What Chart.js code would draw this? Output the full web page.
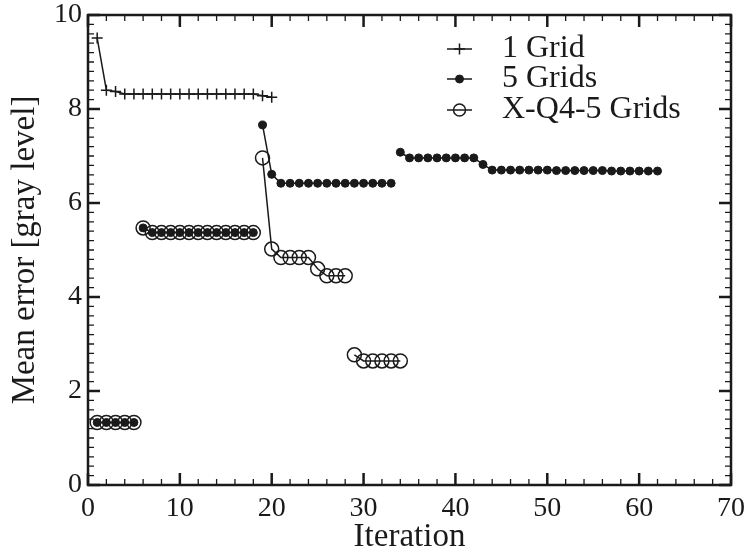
<!DOCTYPE html>
<html>
<head>
<meta charset="utf-8">
<script src="https://cdn.jsdelivr.net/npm/chart.js@4.4.0/dist/chart.umd.min.js"></script>
<style>
  html, body { margin: 0; padding: 0; background: #fff; }
  #wrap { width: 745px; height: 554px; }
  #precarga { font-family: "Liberation Serif"; position: absolute; left: -9999px; }
</style>
</head>
<body>
<span id="precarga">Iteration 0123456789</span>
<div id="wrap"><canvas id="grafico"></canvas></div>
<script>
// =====================
// Datos
// =====================
const nombres = ["1 Grid", "5 Grids", "X-Q4-5 Grids"];
const iterInicio = 1; // primera iteración de cada serie

const grid1Values = [
  9.51, 8.40, 8.37,
  8.32, 8.32, 8.32, 8.32, 8.32, 8.32, 8.32, 8.32, 8.32, 8.32, 8.32, 8.32, 8.32, 8.32, 8.32,
  8.28, 8.25
];
const grid1Breaks = [];

const grid5Values = [
  1.33, 1.33, 1.33, 1.33, 1.33,
  5.47, 5.37, 5.37, 5.37, 5.37, 5.37, 5.37, 5.37, 5.37, 5.37, 5.37, 5.37, 5.37,
  7.66, 6.61, 6.42, 6.42, 6.42, 6.42, 6.42, 6.42, 6.42, 6.42, 6.42, 6.42, 6.42, 6.42, 6.42,
  7.08, 6.96, 6.96, 6.96, 6.96, 6.96, 6.96, 6.96, 6.96,
  6.82, 6.70, 6.70, 6.70, 6.70, 6.70, 6.70, 6.70, 6.69, 6.69, 6.69, 6.69, 6.69, 6.69,
  6.68, 6.68, 6.68, 6.68, 6.68, 6.68
];
const grid5Breaks = [6, 19, 34];

const xq4Values = [
  1.33, 1.33, 1.33, 1.33, 1.33,
  5.47, 5.37, 5.37, 5.37, 5.37, 5.37, 5.37, 5.37, 5.37, 5.37, 5.37, 5.37, 5.37,
  6.96, 5.02, 4.84, 4.84, 4.84, 4.84, 4.60, 4.45, 4.45, 4.45,
  2.77, 2.64, 2.64, 2.64, 2.64, 2.64
];
const xq4Breaks = [6, 19, 29];

// =====================
// Funciones auxiliares
// =====================
function puntos(valores, cortes) {
  const out = [];
  valores.forEach((v, i) => {
    const it = iterInicio + i;
    if (cortes.includes(it)) out.push({ x: it - 0.5, y: null }); // corta la línea
    out.push({ x: it, y: v });
  });
  return out;
}

const negro = "#1a1a1a";
const fuente = '"Liberation Serif", serif';
Chart.defaults.font.family = fuente;
Chart.defaults.color = negro;

// marco con marcas hacia dentro en los cuatro lados
const marco = {
  id: "marco",
  afterDraw(chart) {
    const { ctx, chartArea: a, scales: { x, y } } = chart;
    ctx.save();
    ctx.strokeStyle = negro;
    for (let k = 0; k <= 35; k++) {
      const px = x.getPixelForValue(k * 2);
      const mayor = k % 5 === 0;
      const len = mayor ? 12 : 6;
      ctx.lineWidth = mayor ? 2.5 : 1.3;
      ctx.beginPath();
      ctx.moveTo(px, a.bottom); ctx.lineTo(px, a.bottom - len);
      ctx.moveTo(px, a.top); ctx.lineTo(px, a.top + len);
      ctx.stroke();
    }
    for (let k = 0; k <= 50; k++) {
      const py = y.getPixelForValue(k * 0.2);
      const mayor = k % 10 === 0;
      const len = mayor ? 12 : 6;
      ctx.lineWidth = mayor ? 2.5 : 1.3;
      ctx.beginPath();
      ctx.moveTo(a.left, py); ctx.lineTo(a.left + len, py);
      ctx.moveTo(a.right, py); ctx.lineTo(a.right - len, py);
      ctx.stroke();
    }
    ctx.lineWidth = 2.5;
    ctx.strokeRect(a.left, a.top, a.right - a.left, a.bottom - a.top);
    ctx.restore();
  }
};

// leyenda dentro del área del gráfico
const leyenda = {
  id: "leyenda",
  afterDraw(chart) {
    const ctx = chart.ctx;
    const x0 = 447, x1 = 472, xt = 502;
    const filas = [49, 79, 110];
    ctx.save();
    chart.data.datasets.forEach((ds, i) => {
      const yy = filas[i];
      ctx.strokeStyle = negro;
      ctx.lineWidth = 1.5;
      ctx.beginPath();
      ctx.moveTo(x0, yy); ctx.lineTo(x1, yy);
      ctx.stroke();
      ctx.fillStyle = ds.pointBackgroundColor;
      ctx.strokeStyle = negro;
      ctx.lineWidth = ds.pointBorderWidth;
      Chart.helpers.drawPoint(ctx, {
        pointStyle: ds.pointStyle,
        radius: Math.min(ds.pointRadius, 6),
        borderWidth: ds.pointBorderWidth,
        rotation: 0
      }, (x0 + x1) / 2, yy);
      ctx.fillStyle = negro;
      ctx.font = "32px " + fuente;
      ctx.textBaseline = "middle";
      ctx.textAlign = "left";
      ctx.fillText(nombres[i], xt, yy);
    });
    ctx.restore();
  }
};

// =====================
// Gráfico
// =====================
function dibujar() {
  new Chart(document.getElementById("grafico"), {
    type: "line",
    data: {
      datasets: [
        {
          label: nombres[0],
          data: puntos(grid1Values, grid1Breaks),
          borderColor: negro, borderWidth: 1.5,
          pointStyle: "cross", pointRadius: 5.5, pointBorderWidth: 1.5,
          pointBorderColor: negro, pointBackgroundColor: negro
        },
        {
          label: nombres[1],
          data: puntos(grid5Values, grid5Breaks),
          borderColor: negro, borderWidth: 1.5,
          pointStyle: "circle", pointRadius: 4, pointBorderWidth: 1,
          pointBorderColor: negro, pointBackgroundColor: negro
        },
        {
          label: nombres[2],
          data: puntos(xq4Values, xq4Breaks),
          borderColor: negro, borderWidth: 1.5,
          pointStyle: "circle", pointRadius: 7, pointBorderWidth: 1.5,
          pointBorderColor: negro, pointBackgroundColor: "rgba(0,0,0,0)"
        }
      ]
    },
    options: {
      responsive: true,
      maintainAspectRatio: false,
      animation: false,
      devicePixelRatio: 1,
      layout: { padding: { left: 0, top: 15, right: 14, bottom: 0 } },
      plugins: { legend: { display: false }, tooltip: { enabled: false } },
      scales: {
        x: {
          type: "linear", min: 0, max: 70,
          grid: { display: false, drawTicks: false },
          border: { display: false },
          ticks: { stepSize: 10, padding: 10, color: negro, font: { size: 28, lineHeight: 1 } },
          title: { display: true, text: "Iteration", color: negro, padding: { top: 0, bottom: 0 }, font: { size: 33, lineHeight: 1 } },
          afterFit: s => { s.height = 69; s.paddingLeft = 0; s.paddingRight = 0; }
        },
        y: {
          min: 0, max: 10,
          grid: { display: false, drawTicks: false },
          border: { display: false },
          ticks: { stepSize: 2, padding: 6, color: negro, font: { size: 28, lineHeight: 1 } },
          title: { display: true, text: "Mean error [gray level]", color: negro, padding: { top: 9, bottom: 0 }, font: { size: 33, lineHeight: 1 } },
          afterFit: s => { s.width = 88; s.paddingTop = 0; s.paddingBottom = 0; }
        }
      }
    },
    plugins: [marco, leyenda]
  });
}

document.fonts.load('28px "Liberation Serif"').then(dibujar, dibujar);
</script>
</body>
</html>
